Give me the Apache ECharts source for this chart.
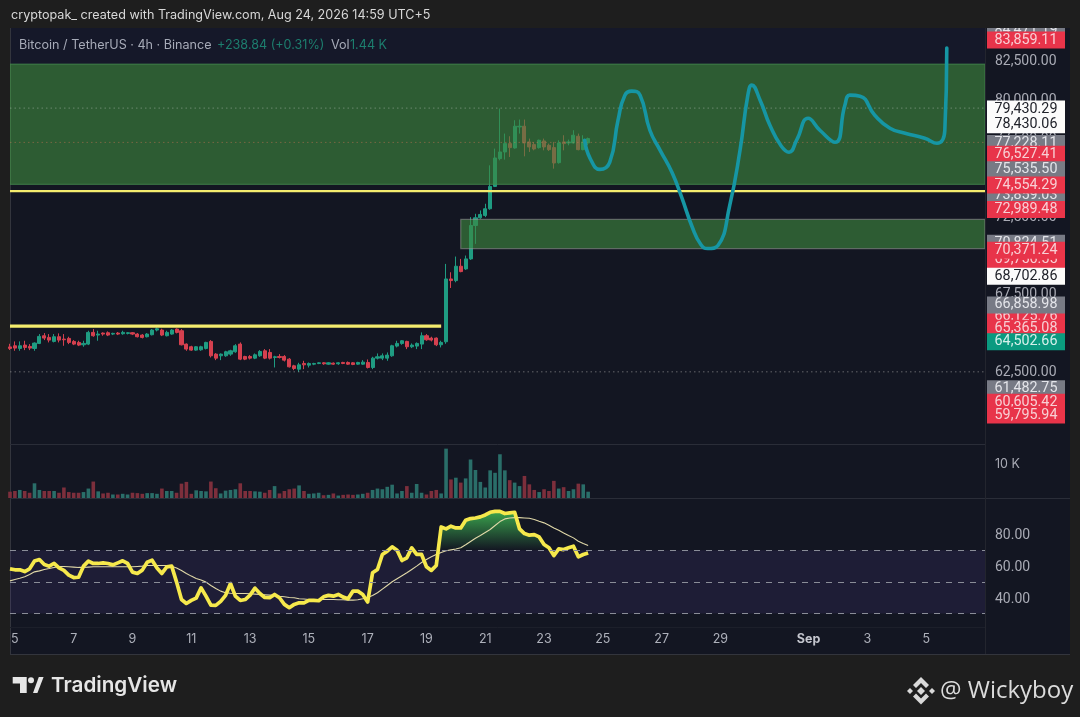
<!DOCTYPE html>
<html><head><meta charset="utf-8">
<style>html,body{margin:0;padding:0;background:#1e1e1e}#c{width:1080px;height:717px}</style>
<script src="https://cdn.jsdelivr.net/npm/echarts@6/dist/echarts.min.js"></script>
</head><body><div id="c"></div>
<script>
const headerText = 'cryptopak_ created with TradingView.com, Aug 24, 2026 14:59 UTC+5';
const symbolText = 'Bitcoin / TetherUS · 4h · Binance';
const changeText = '+238.84 (+0.31%)';
const volLabel = 'Vol';
const volValue = '1.44 K';
const brandText = 'TradingView';
const authorText = '@ Wickyboy';

const dayLabels = ['5','7','9','11','13','15','17','19','21','23','25','27','29','Sep','3','5'];
const dayBars   = [1,13,25,37,49,61,73,85,97,109,121,133,145,163,175,187];
const barCount = 200;

const opens  = [64100,64173,64002,64216,64130,64002,64323,64817,64709,64452,64752,64602,64645,64452,64388,64237,64280,65031,64860,64988,65010,64924,64988,64945,64967,65010,64924,64860,64752,64881,65181,65181,64817,64924,65246,65138,64280,64109,63894,63916,64002,64452,63637,63530,63530,63637,63787,64280,63487,63487,63379,63530,63851,63744,63422,63487,63487,63315,62886,62672,63036,62929,62993,63036,63079,62993,63058,63015,63101,63101,63079,62993,62993,63101,62779,63379,63379,63379,63530,64152,64323,64452,64109,64152,64280,64817,64666,64666,64237,64430,68463,68356,69278,69107,69750,71895,72388,72539,72968,74405,76185,76614,77150,76872,78223,78266,77258,77086,76893,77322,77043,76893,75928,77258,77193,77193,77622,76764,77193];
const highs  = [64300,64452,64452,64495,64280,64388,64924,64988,64924,64924,64967,64924,64752,64538,64495,64495,65138,65246,65138,65031,65095,65010,65053,65138,65053,65053,64988,64924,64988,65246,65353,65267,65138,65246,65288,65246,64323,64173,64152,64173,64430,64538,63702,63680,63851,63916,64280,64388,63530,63573,63680,63894,63959,63959,63530,63637,63573,63379,62950,63079,63208,63101,63079,63122,63122,63122,63101,63122,63144,63165,63122,63144,63251,63294,63465,63680,63680,63744,64237,64495,64538,64495,64323,64388,65031,64924,64752,64709,64495,69428,68892,69900,69750,69965,72431,72646,72860,73289,75756,76829,79403,77794,77622,78652,78695,78695,77472,77258,77408,77472,77150,77258,77365,77687,77408,78008,77794,77687,77536];
const lows   = [63900,63851,63851,63894,63894,63851,64280,64538,64388,64388,64388,64173,64280,64216,64152,64109,64216,64752,64495,64817,64795,64860,64860,64881,64902,64860,64709,64645,64709,64838,65095,64795,64774,64881,64967,64195,63851,63851,63851,63851,63937,63422,63251,63251,63465,63530,63723,63251,63251,63294,63315,63465,63315,63294,62779,63358,63165,62779,62607,62500,62672,62779,62929,62993,62950,62950,62950,62950,62993,62950,62929,62950,62950,62715,62672,63294,63251,63208,63465,64066,64237,63959,64023,63959,63959,64495,64452,64152,64066,64300,67884,68249,68892,69042,69686,70715,72324,72431,72903,74362,76078,76121,76292,76829,77794,76335,76614,76721,76829,76721,76678,75542,75863,76721,77043,77150,76721,76721,77043];
const closes = [64000,64023,64173,64066,64023,64345,64774,64666,64538,64752,64538,64559,64388,64280,64216,64323,65031,64817,64924,64924,64860,64967,64924,65031,65010,64924,64752,64709,64924,65181,65267,64860,65031,65181,65031,64237,63959,63894,64109,64109,64388,63530,63379,63637,63787,63851,64173,63315,63315,63379,63594,63809,63379,63379,63465,63422,63251,62822,62715,62950,62950,63036,63036,63079,63015,63079,62993,63079,63036,62993,62972,63101,63122,62779,63379,63465,63530,63573,64173,64323,64495,64109,64216,64323,64817,64559,64538,64237,64388,68463,68356,69278,68935,69750,71895,72388,72603,72968,74405,76228,76614,77150,76893,78266,78266,77193,76936,76807,77365,76936,76764,75906,77193,77150,77258,77687,76764,77258,77472];

const volumes = [1.8,2,2.3,2,1.5,4.2,2.3,2,2,2,1.5,3,1.7,1.5,1.5,1.7,2.7,4.7,1.9,1.3,1.5,1,1,1.2,1,1.5,1.4,1.2,1.4,1.4,1.2,2.7,2,2,1.5,4.1,4.6,1.2,2.2,2,1.9,4.7,2.8,1.3,2.1,2.3,2.5,4.2,2,2,1.9,1.8,1.5,2.3,3.4,1.3,2,2.5,2.7,3.6,2,1.2,1.3,1.5,0.8,0.9,1.3,0.7,0.9,1,0.9,1,1.2,1.5,2.3,2.7,2.5,3.2,3.8,1.3,2,3.4,1.5,4,1.5,1,2,2.3,1.3,14.1,5.3,5.8,4.4,5.6,11,8,4.6,3,7.9,7.2,12.5,7.9,5.1,4.4,3.4,6.3,3.9,2.3,1.7,2.5,2,4.9,2.7,3.1,2,2.5,4.1,3.9,1.8];

const rsi = [58.2,57.6,57.6,56.5,58.2,63.1,64.1,60.9,59.9,61.6,58.8,57.2,54.2,52.7,52.9,59.9,63.1,61.6,61.6,62,61.6,60.7,62,63.3,61.6,56.1,55.3,57.4,62.4,63.7,58.8,55.3,59.5,59.9,49.8,38.8,36.3,38.2,39.7,46.2,40.9,35.3,35.1,37.6,41.4,48.9,40.9,38.2,38.8,41.6,46,42.6,40.1,39.9,42,39.9,35.7,33.6,35.7,36.7,36.7,38.2,38.2,38,40.5,41.4,40.9,42,40.3,39.3,44.1,44.1,42,37.2,55.7,57.8,67.3,69.4,72.1,70,63.5,65.2,71.5,67.3,67.3,59.5,57.2,60.3,84.7,83.5,85.2,84.1,84.1,88.9,90,90.4,91.1,92.3,94,94.6,94.6,93.2,93.6,94,83.5,80.5,79.5,79.9,78.4,73.6,71.5,66.6,70.8,70.4,71.5,72.5,65.8,67.3,68.3];
const rsiMA = [50.6,51.5,52.3,53.2,54.6,56.3,56.9,57.8,58.4,59.1,59.7,59.7,59.5,59.3,59.1,59.1,59.3,59.5,59.5,59.5,59.5,59.5,59.5,59.5,59.5,59.5,59.7,59.9,60.3,60.3,60.3,60.3,60.3,59.9,58.8,57.2,55.3,53.6,52.1,51.1,49.8,47.7,45.8,44.1,43.1,42.8,42.6,42.6,42.6,42.4,42.2,42,41.8,41.6,41.4,40.9,40.5,40.1,39.9,39.3,39.1,38.8,38.8,38.8,38.8,38.8,38.8,38.6,38.6,38.4,38.4,38.6,39.3,40.1,41.4,43.1,45.4,47.7,50,51.9,53.8,55.7,57.8,59.9,62.2,64.1,65.8,67.3,68.5,69.6,70.2,70.8,71.5,73.4,75.5,77.6,79.3,81.2,83.1,85.6,88.1,89.8,90.4,90.6,90.6,90.4,90.2,89.4,88.3,87.3,85.8,84.1,82.6,80.9,79.3,77.8,75.7,74.2,72.9];
const rsiBands = [30,50,70];

// hand-drawn projection: bar position and price
const curveBars   = [117.3,118.4,120.4,122.4,124.1,125.5,126.9,128.6,130.6,132.7,135.1,137.1,139.2,141,142.4,144.5,146.9,149,150.6,151.4,153.1,155.1,157.4,159,160.6,162.9,165.3,168.4,170.4,171.4,173.5,176.5,179.6,182.7,186.7,189.2,190.8,191.2];
const curvePrices = [77365,76207,75499,75949,78652,80261,80518,80261,78008,76721,75306,73697,71831,70672,70415,70608,73182,76721,80261,80904,79939,78330,77000,76600,77400,78781,78008,77236,79617,80261,80196,78974,78137,77815,77493,77172,78008,83286];

const zoneFrom = [0,92];
const zoneTo   = [199,199];
const zoneHigh = [82256,72281];
const zoneLow  = [74533,70415];
const zoneEdge = ['rgba(70,140,80,.6)','rgba(150,150,150,.55)'];

const levelFrom  = [0,0];
const levelTo    = [199,88];
const levelPrice = [74100,65430];

const dottedLevels = [79430.29,77228.11,62500];
const dottedColors = ['rgba(220,220,220,.35)','rgba(230,120,90,.4)','rgba(170,170,170,.55)'];

const priceTicks = [82500,80000,77500,75000,72500,70000,67500,65000,62500];
const tagValues = [84471.19,83859.11,79430.29,78430.06,77228.11,76527.41,75535.50,73859.03,74554.29,72989.48,70824.51,69756.55,70371.24,68702.86,66125.76,66858.98,65365.08,64502.66,61482.75,60605.42,59795.94];
const tagKinds  = ['g','r','w','w','g','r','g','g','r','r','g','r','r','w','r','g','r','t','g','r','r'];
const tagFill = {g:'#777a85',r:'#e8344a',w:'#fbfbfb',t:'#0a9a80'};
const tagInk  = {g:'#e4e5ea',r:'#f8cfd4',w:'#20222a',t:'#d5f0ea'};

const volTicks = [10];
const rsiTicks = [80,60,40];

const UP='#1f9c82', DOWN='#d5404f', UPV='#2a6e69', DOWNV='#7d2f3c';
const FONT='Inter, Roboto, sans-serif';
const cats = Array.from({length:barCount},(_,i)=>{const j=dayBars.indexOf(i);return j<0?'':dayLabels[j];});
const candleData = opens.map((o,i)=>[o,closes[i],lows[i],highs[i]]);
const volData = volumes.map((v,i)=>({value:v,itemStyle:{color:closes[i]>=opens[i]?UPV:DOWNV}}));
const hiddenCat = {type:'category',boundaryGap:false,data:cats,axisLine:{show:false},axisTick:{show:false},axisLabel:{show:false},splitLine:{show:false}};
const plainY = {type:'value',position:'right',splitLine:{show:false},axisLine:{show:false},axisTick:{show:false},axisLabel:{show:false}};
const fmt2 = v=>v.toLocaleString('en-US',{minimumFractionDigits:2,maximumFractionDigits:2});
// tick labels of one pane, placed through that pane's own y axis
const tickSeries=(name,axis,values,format,dy,font)=>({type:'custom',name,xAxisIndex:axis,yAxisIndex:axis,z:15,clip:false,
  data:values.map(v=>[0,v]),encode:{x:0,y:1},
  renderItem:(p,api)=>({type:'text',style:{text:format(api.value(1)),x:995,y:api.coord([0,api.value(1)])[1]+dy,textVerticalAlign:'middle',font,fill:'#a9abb5'}})});

const chart = echarts.init(document.getElementById('c'),null,{renderer:'canvas'});
const L=10,R=95;
const txt=(x,y,t,fill,size,extra)=>({type:'text',x,y,z:1,style:Object.assign({text:t,fill,font:`${size}px ${FONT}`,textVerticalAlign:'middle'},extra||{})});
const ln=(x1,y1,x2,y2,c)=>({type:'line',z:1,shape:{x1,y1,x2,y2},style:{stroke:c,lineWidth:1}});
const poly=(pts,c)=>({type:'polygon',z:1,shape:{points:pts},style:{fill:c}});
const LOGO='#e6e6e6', BIN='#d9d9d9';
const graphics=[
 {type:'rect',z:0,shape:{x:10,y:28,width:1060,height:626},style:{fill:'#131622'}},
 {type:'rect',z:0,shape:{x:10,y:28,width:975,height:36},style:{fill:'#151829'}},
 ln(10.5,28,10.5,654,'#33353d'), ln(10,444.5,985,444.5,'#2a2d38'), ln(10,498.5,1070,498.5,'#2a2d38'),
 ln(985.5,28,985.5,654,'#23252e'), ln(10,654.5,1070,654.5,'#33353d'), ln(10,627.5,985,627.5,'#1c1f2a'),
 txt(11,15,headerText,'#d8d8d8',12.6),
 txt(19,45,symbolText,'#a7abb8',12.6),
 txt(217,45,changeText,'#1d7e6e',12.6),
 txt(331,45,volLabel,'#a7abb8',12.6),
 txt(350,45,volValue,'#1d7e6e',12.6),
 poly([[12.7,677],[26.7,677],[26.7,693],[20,693],[20,683.5],[12.7,683.5]],LOGO),
 {type:'circle',z:1,shape:{cx:31,cy:680.3,r:3},style:{fill:LOGO}},
 poly([[33,693],[38.8,677],[43.6,677],[37.4,693]],LOGO),
 txt(51,685.5,brandText,'#e6e6e6',20.7,{font:`600 20.7px ${FONT}`}),
 poly([[921,677],[929,685],[926,688],[921,683],[916,688],[913,685]],BIN),
 poly([[921,704.5],[929,696.5],[926,693.5],[921,698.5],[916,693.5],[913,696.5]],BIN),
 poly([[921,687],[925,691],[921,695],[917,691]],BIN),
 poly([[910,688],[913,691],[910,694],[907,691]],BIN),
 poly([[932,688],[935,691],[932,694],[929,691]],BIN),
 txt(940,691,authorText,'#dcdcdc',24,{font:'24px "Open Sans", sans-serif'})
];

chart.setOption({
 animation:false,
 backgroundColor:'#1e1e1e',
 graphic:graphics,
 grid:[
  {left:L,right:R,top:28,height:416},
  {left:L,right:R,top:444,height:54},
  {left:L,right:R,top:499,height:128}
 ],
 xAxis:[
  Object.assign({gridIndex:0},hiddenCat),
  Object.assign({gridIndex:1},hiddenCat),
  Object.assign({},hiddenCat,{gridIndex:2,axisLabel:{show:true,interval:0,margin:6,color:'#aeb1bb',fontSize:12.5,fontFamily:FONT,
     formatter:v=>v==='Sep'?'{b|Sep}':v,rich:{b:{fontWeight:700,color:'#c4c6ce',fontSize:12.5,fontFamily:FONT}}}}),
  {gridIndex:0,type:'value',min:0,max:barCount-1,show:false,splitLine:{show:false}}
 ],
 yAxis:[
  Object.assign({gridIndex:0,min:57867,max:84572},plainY),
  Object.assign({gridIndex:1,min:0,max:15.43},plainY),
  Object.assign({gridIndex:2,min:21.4,max:102.4},plainY)
 ],
 series:[
  {type:'candlestick',name:'BTCUSDT',xAxisIndex:0,yAxisIndex:0,data:candleData,barWidth:3.6,z:2,
   itemStyle:{color:UP,color0:DOWN,borderColor:UP,borderColor0:DOWN,borderWidth:1}},
  {type:'custom',name:'zones',xAxisIndex:3,yAxisIndex:0,z:3,clip:true,
   data:zoneFrom.map((f,i)=>[f,zoneTo[i],zoneHigh[i],zoneLow[i],i]),
   encode:{x:[0,1],y:[2,3]},
   renderItem:(p,api)=>{const a=api.coord([api.value(0),api.value(2)]),b=api.coord([api.value(1),api.value(3)]);
     return {type:'rect',shape:{x:a[0],y:a[1],width:b[0]-a[0],height:b[1]-a[1]},style:{fill:'rgba(62,135,62,.62)',stroke:zoneEdge[api.value(4)],lineWidth:1.2}};}},
  {type:'custom',name:'levels',xAxisIndex:3,yAxisIndex:0,z:4,clip:true,
   data:levelFrom.map((f,i)=>[f,levelTo[i],levelPrice[i]]),
   encode:{x:[0,1],y:2},
   renderItem:(p,api)=>{const a=api.coord([api.value(0),api.value(2)]),b=api.coord([api.value(1),api.value(2)]);
     return {type:'line',shape:{x1:a[0],y1:a[1],x2:b[0],y2:b[1]},style:{stroke:'#f4ec6e',lineWidth:p.dataIndex===0?2.4:3.2}};}},
  {type:'custom',name:'dotted',xAxisIndex:3,yAxisIndex:0,z:3,clip:true,
   data:dottedLevels.map((v,i)=>[0,v,i]),
   encode:{x:0,y:1},
   renderItem:(p,api)=>{const a=api.coord([0,api.value(1)]),b=api.coord([barCount-1,api.value(1)]);
     return {type:'line',shape:{x1:a[0],y1:a[1],x2:b[0],y2:b[1]},style:{stroke:dottedColors[api.value(2)],lineWidth:1,lineDash:[1.5,3]}};}},
  {type:'line',name:'projection',xAxisIndex:3,yAxisIndex:0,z:6,data:curveBars.map((b,i)=>[b,curvePrices[i]]),
   smooth:0.5,showSymbol:false,symbol:'none',lineStyle:{color:'#1696a4',width:3.6,cap:'round',join:'round'},clip:false},
  tickSeries('price ticks',0,priceTicks,fmt2,1,'14px Roboto'),
  tickSeries('volume ticks',1,volTicks,v=>v+' K',1,`12.5px ${FONT}`),
  tickSeries('rsi ticks',2,rsiTicks,fmt2,1.5,'14px Roboto'),
  {type:'custom',name:'tags',xAxisIndex:0,yAxisIndex:0,z:20,clip:false,
   data:tagValues.map((v,i)=>[0,v,i]),encode:{x:0,y:1},
   renderItem:(p,api)=>{const i=api.value(2),k=tagKinds[i],y=api.coord([0,api.value(1)])[1]+1;
     return {type:'group',clipPath:{type:'rect',shape:{x:985,y:28,width:95,height:620}},children:[
       {type:'rect',z2:i*2,shape:{x:987,y:y-8.5,width:78,height:17},style:{fill:tagFill[k]}},
       {type:'text',z2:i*2+1,style:{text:fmt2(tagValues[i]),x:1026,y:y,textAlign:'center',textVerticalAlign:'middle',font:'14.3px Roboto',fill:tagInk[k]}}
     ]};}},
  {type:'bar',name:'Volume',xAxisIndex:1,yAxisIndex:1,data:volData,barWidth:3.6,z:2},
  {type:'line',name:'RSI fill base',xAxisIndex:2,yAxisIndex:2,stack:'fill',data:rsi.map(()=>70),symbol:'none',lineStyle:{opacity:0},z:2},
  {type:'line',name:'RSI fill',xAxisIndex:2,yAxisIndex:2,stack:'fill',data:rsi.map(v=>Math.max(v-70,0)),symbol:'none',lineStyle:{opacity:0},z:2,
   areaStyle:{opacity:1,color:new echarts.graphic.LinearGradient(0,0,0,1,[{offset:0,color:'rgba(65,190,85,.85)'},{offset:1,color:'rgba(65,190,85,0)'}])}},
  {type:'line',name:'RSI MA',xAxisIndex:2,yAxisIndex:2,data:rsiMA,symbol:'none',lineStyle:{color:'#e0d8a8',width:1.1},z:3},
  {type:'line',name:'RSI',xAxisIndex:2,yAxisIndex:2,data:rsi,symbol:'none',lineStyle:{color:'#f6e94c',width:3.7,join:'round'},z:4,
   markArea:{silent:true,itemStyle:{color:'rgba(110,80,190,.13)'},data:[[{yAxis:70},{yAxis:30}]]},
   markLine:{silent:true,symbol:'none',label:{show:false},lineStyle:{color:'#8a8d98',type:[6,6],width:1},data:rsiBands.map(v=>({yAxis:v}))}}
 ]
});
</script></body></html>
